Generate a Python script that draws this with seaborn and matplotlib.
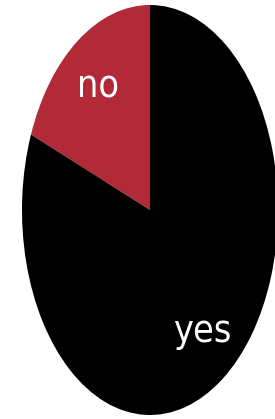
import matplotlib
matplotlib.use('Agg')
import matplotlib.pyplot as plt
import seaborn as sns

# Data
labels = ['no', 'yes']
shares = [19, 81]
colors = ['#b22a37', '#000000']

sns.set_style('white')
plt.rcParams['font.family'] = ['DejaVu Sans']

fig = plt.figure(figsize=(2.75, 4.19), dpi=100)
# axes placed so the stretched pie fills the figure like the reference
ax = fig.add_axes([22 / 275, 4 / 419, 256 / 275, 410 / 419])

wedges, texts = ax.pie(shares, labels=labels, colors=colors, startangle=90,
                       labeldistance=0.72, wedgeprops={'linewidth': 0},
                       textprops={'color': 'white', 'fontsize': 27,
                                  'fontstretch': 'condensed'})
for t in texts:
    t.set_ha('center')
    t.set_va('center')

ax.set_aspect('auto')
ax.set_xlim(-1, 1)
ax.set_ylim(-1, 1)
ax.axis('off')

fig.savefig('out.png', dpi=100)
plt.close(fig)
